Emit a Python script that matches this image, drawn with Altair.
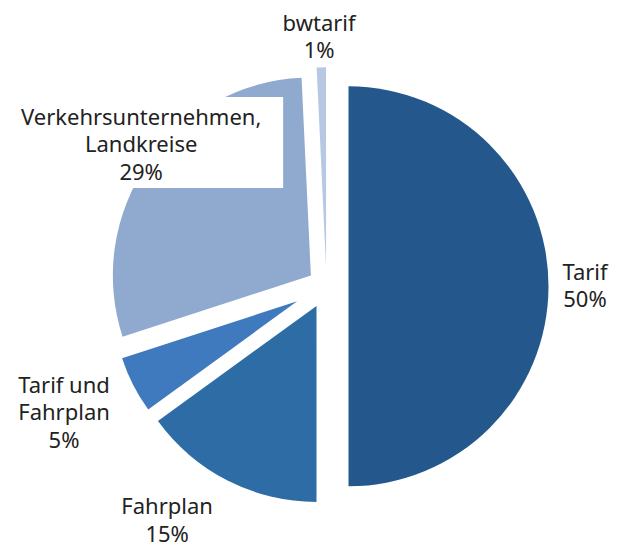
import altair as alt
import pandas as pd

# --- data (labels show rounded percentages) ---
categories = ["Tarif", "Fahrplan", "Tarif und Fahrplan",
              "Verkehrsunternehmen, Landkreise", "bwtarif"]
values = [50, 15, 5, 29.25, 0.75]
label_lines = ["Tarif", "Fahrplan", "Tarif und|Fahrplan",
               "Verkehrsunternehmen,|Landkreise", "bwtarif"]

# --- style ---
colors = ["#24588c", "#2d6ca5", "#3e7abd", "#8fa9cf", "#b7c8e3"]
W, H = 621, 540
CX, CY = 318.5, 278.3
RADII = [200, 196, 184, 198, 200]
EXPLODE = [22, 22, 33, 19, 19]
LABEL_R = [258.5, 283.5, 291.5, 233, 249]
LABEL_TURN = [0, 7.2, 1.2, 2.65, -0.35]
FONT = "Noto Sans"
FS = 22
LH = 27.5

df = pd.DataFrame({
    "cat": categories,
    "value": values,
    "lines": label_lines,
    "order": list(range(len(categories))),
    "rad": RADII,
    "ex": EXPLODE,
    "lr": LABEL_R,
    "lt": LABEL_TURN,
})

base = alt.Chart(df).transform_joinaggregate(
    total="sum(value)"
).transform_window(
    cum="sum(value)", sort=[alt.SortField("order")]
).transform_calculate(
    t1="datum.cum / datum.total * 2 * PI",
    t0="(datum.cum - datum.value) / datum.total * 2 * PI",
).transform_calculate(
    mid="(datum.t0 + datum.t1) / 2",
).transform_calculate(
    cx=f"{CX} + datum.ex * sin(datum.mid)",
    cy=f"{CY} - datum.ex * cos(datum.mid)",
    la="datum.mid + datum.lt * PI / 180",
    txt="split(datum.lines + '|' + round(datum.value) + '%', '|')",
).transform_calculate(
    lx=f"{CX} + datum.lr * sin(datum.la)",
    ly=f"{CY} - datum.lr * cos(datum.la)",
    ty=f"{CY} - datum.lr * cos(datum.la) - (length(datum.txt) - 1) * {LH} / 2",
)

arcs = base.mark_arc().encode(
    theta=alt.Theta("t0:Q", scale=None),
    theta2="t1:Q",
    radius=alt.Radius("rad:Q", scale=None),
    x=alt.X("cx:Q", scale=None),
    y=alt.Y("cy:Q", scale=None),
    color=alt.Color("cat:N", scale=alt.Scale(domain=categories, range=colors), legend=None),
)

box = base.transform_filter(
    alt.datum.cat == "Verkehrsunternehmen, Landkreise"
).transform_calculate(
    bx0="datum.lx - 150", bx1="datum.lx + 142",
    by0="datum.ly - 48", by1="datum.ly + 43",
).mark_rect(color="white").encode(
    x=alt.X("bx0:Q", scale=None), x2="bx1:Q",
    y=alt.Y("by0:Q", scale=None), y2="by1:Q",
)

labels = base.mark_text(
    font=FONT, fontSize=FS, lineHeight=LH, align="center",
    baseline="middle", color="#222222",
).encode(
    x=alt.X("lx:Q", scale=None),
    y=alt.Y("ty:Q", scale=None),
    text=alt.Text("txt:N"),
)

chart = alt.layer(arcs, box, labels).properties(
    width=W, height=H, padding=0,
    autosize=alt.AutoSizeParams(type="none"),
).configure_view(stroke=None)

chart.save("out.html", embed_options={"renderer": "svg", "actions": False})
